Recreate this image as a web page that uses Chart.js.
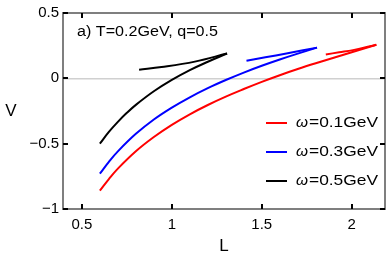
<!DOCTYPE html>
<html>
<head>
<meta charset="utf-8">
<script src="https://cdn.jsdelivr.net/npm/chart.js@4.4.1/dist/chart.umd.min.js"></script>
<style>
  html, body { margin: 0; padding: 0; background: #fff; }
  #wrap { width: 390px; height: 259px; }
</style>
</head>
<body>
<div id="wrap"><canvas id="chart"></canvas></div>
<script>
// values
var omegaNames = ['0.1GeV', '0.3GeV', '0.5GeV'];
var colors = ['#ff0000', '#0000ff', '#000000'];

// omega = 0.1 (red)
var redLowL = [0.6, 0.65, 0.7, 0.8, 0.9, 1.0, 1.1, 1.2, 1.3, 1.4, 1.5, 1.6, 1.7, 1.8, 1.9, 2.0, 2.137];
var redLowV = [-0.86, -0.771, -0.691, -0.558, -0.449, -0.356, -0.275, -0.204, -0.14, -0.082, -0.027, 0.024, 0.071, 0.115, 0.157, 0.199, 0.257];
var redUpL = [2.137, 2.007, 1.93, 1.856];
var redUpV = [0.257, 0.216, 0.199, 0.183];

// omega = 0.3 (blue)
var blueLowL = [0.6, 0.65, 0.7, 0.8, 0.9, 1.0, 1.1, 1.2, 1.3, 1.4, 1.5, 1.6, 1.7, 1.807];
var blueLowV = [-0.73, -0.639, -0.559, -0.425, -0.315, -0.224, -0.145, -0.075, -0.013, 0.044, 0.096, 0.144, 0.189, 0.235];
var blueUpL = [1.807, 1.637, 1.52, 1.415];
var blueUpV = [0.235, 0.19, 0.161, 0.134];

// omega = 0.5 (black)
var blackLowL = [0.6, 0.65, 0.7, 0.75, 0.8, 0.9, 1.0, 1.1, 1.2, 1.307];
var blackLowV = [-0.5, -0.41, -0.333, -0.264, -0.203, -0.099, -0.012, 0.063, 0.127, 0.19];
var blackUpL = [1.307, 1.128, 0.943, 0.818];
var blackUpV = [0.19, 0.128, 0.086, 0.066];

var xTicks = [0.5, 1, 1.5, 2];
var yTicks = [0.5, 0, -0.5, -1];

function pts(xs, ys) {
  return xs.map(function (x, i) { return { x: x, y: ys[i] }; });
}

function line(data, color) {
  return {
    data: data,
    borderColor: color,
    borderWidth: 2,
    pointRadius: 0,
    showLine: true,
    tension: 0.4,
    fill: false
  };
}

var FONT = 'Liberation Sans, Arial, sans-serif';

// text squeezed/stretched to the width it has in the picture
function wideText(ctx, txt, x, y, w) {
  var m = ctx.measureText(txt).width;
  ctx.save();
  ctx.translate(x, y);
  ctx.scale(w / m, 1);
  ctx.fillText(txt, 0, 0);
  ctx.restore();
}

var framePlugin = {
  id: 'frame',
  afterDraw: function (chart) {
    var ctx = chart.ctx;
    var a = chart.chartArea;
    var xs = chart.scales.x, ys = chart.scales.y;
    ctx.save();
    // frame
    ctx.strokeStyle = '#7f7f7f';
    ctx.lineWidth = 2;
    ctx.strokeRect(a.left, a.top, a.right - a.left, a.bottom - a.top);
    // inward ticks
    ctx.strokeStyle = '#000';
    ctx.lineWidth = 2;
    ctx.beginPath();
    xTicks.forEach(function (v) {
      var px = Math.round(xs.getPixelForValue(v));
      ctx.moveTo(px, a.bottom); ctx.lineTo(px, a.bottom - 5);
      ctx.moveTo(px, a.top); ctx.lineTo(px, a.top + 5);
    });
    yTicks.forEach(function (v) {
      var py = Math.round(ys.getPixelForValue(v));
      ctx.moveTo(a.left, py); ctx.lineTo(a.left + 5, py);
      ctx.moveTo(a.right, py); ctx.lineTo(a.right - 5, py);
    });
    ctx.stroke();

    // axis labels
    ctx.fillStyle = '#000';
    ctx.font = '17px ' + FONT;
    ctx.textAlign = 'center';
    ctx.textBaseline = 'middle';
    ctx.fillText('V', 11, (a.top + a.bottom) / 2);
    ctx.fillText('L', (a.left + a.right) / 2, 246);

    // panel text
    ctx.font = '14px ' + FONT;
    ctx.textAlign = 'left';
    wideText(ctx, 'a) T=0.2GeV, q=0.5', 77, 32, 141);

    // legend
    var ly = [123, 152, 181];
    omegaNames.forEach(function (name, i) {
      ctx.strokeStyle = colors[i];
      ctx.lineWidth = 2;
      ctx.beginPath();
      ctx.moveTo(266, ly[i]); ctx.lineTo(287, ly[i]);
      ctx.stroke();
      ctx.font = 'italic 15px ' + FONT;
      wideText(ctx, '\u03c9', 296, ly[i], 12);
      ctx.font = '14px ' + FONT;
      wideText(ctx, '=' + name, 309, ly[i], 69);
    });
    ctx.restore();
  }
};

new Chart(document.getElementById('chart'), {
  type: 'scatter',
  data: {
    datasets: [
      line(pts(redLowL, redLowV), colors[0]),
      line(pts(redUpL, redUpV), colors[0]),
      line(pts(blueLowL, blueLowV), colors[1]),
      line(pts(blueUpL, blueUpV), colors[1]),
      line(pts(blackLowL, blackLowV), colors[2]),
      line(pts(blackUpL, blackUpV), colors[2])
    ]
  },
  options: {
    responsive: true,
    maintainAspectRatio: false,
    animation: false,
    layout: { padding: { left: 0, top: 8, right: 5, bottom: 0 } },
    plugins: {
      legend: { display: false },
      tooltip: { enabled: false }
    },
    scales: {
      x: {
        type: 'linear',
        min: 0.395,
        max: 2.185,
        afterFit: function (s) { s.height = 50; },
        afterBuildTicks: function (s) { s.ticks = xTicks.map(function (v) { return { value: v }; }); },
        border: { display: false },
        grid: { display: false, drawTicks: false },
        ticks: {
          color: '#000',
          padding: 7,
          font: { family: FONT, size: 15 },
          callback: function (v) { return String(v); }
        }
      },
      y: {
        type: 'linear',
        min: -1,
        max: 0.5,
        afterFit: function (s) { s.width = 63; },
        afterBuildTicks: function (s) { s.ticks = yTicks.map(function (v) { return { value: v }; }); },
        border: { display: false },
        grid: {
          drawTicks: false,
          color: function (c) { return c.tick && c.tick.value === 0 ? '#d0d0d0' : 'rgba(0,0,0,0)'; },
          lineWidth: 1.5
        },
        ticks: {
          color: '#000',
          padding: 4,
          font: { family: FONT, size: 15 },
          callback: function (v) { return String(v).replace('-', '\u2212'); }
        }
      }
    }
  },
  plugins: [framePlugin]
});
</script>
</body>
</html>
